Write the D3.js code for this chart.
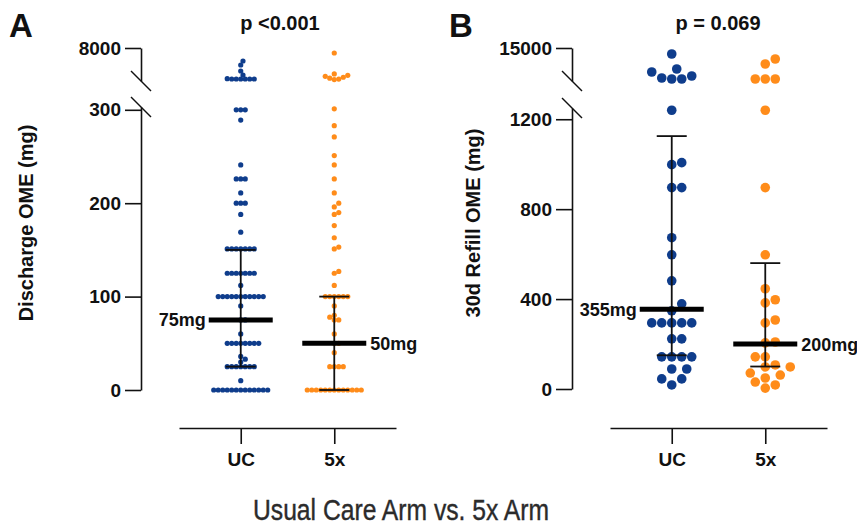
<!DOCTYPE html>
<html>
<head>
<meta charset="utf-8">
<script src="https://cdn.jsdelivr.net/npm/d3@7"></script>
<style>
  body { margin: 0; background: #fff; }
  text { font-family: "Liberation Sans", Arial, sans-serif; }
</style>
</head>
<body>
<div id="chart"></div>
<script>
// groups on the x axis
var groups = ["UC", "5x"];

// panel A: discharge OME (mg), one value per patient
var dischargeUC = [0, 0, 0, 0, 0, 0, 0, 0, 0, 0, 0, 0, 0, 10,
  25, 25, 25, 25, 25, 25, 25, 30, 33, 36,
  50, 50, 50, 50, 50, 50, 50, 50, 60, 75, 75, 90,
  100, 100, 100, 100, 100, 100, 100, 100, 100, 100, 100, 112,
  125, 125, 125, 125, 125, 125, 125,
  151, 151, 151, 151, 151, 151, 151, 169, 188, 200, 200, 200, 211,
  226, 226, 226, 241, 289, 300, 300, 300,
  1424, 1424, 1424, 1424, 1424, 1424, 1500, 2273, 3121, 4394, 5242];
var discharge5x = [0, 0, 0, 0, 0, 0, 0, 0, 0, 0, 0, 0, 0,
  25, 25, 25, 25, 40, 50, 50, 60, 75, 75, 78, 80, 90,
  100, 100, 100, 100, 100, 100, 112, 125, 127, 151, 153, 163, 176,
  188, 190, 196, 200, 211, 226, 241, 251, 271, 283, 301,
  1300, 1400, 1600, 1800, 2000, 2200, 2500, 6940];
var dischargeMedian = [75, 50];
var dischargeLow = [25, 0];
var dischargeHigh = [150, 100];
var dischargeTicks = [0, 100, 200, 300];
var dischargeTopTick = [8000];

// panel B: 30 day refill OME (mg)
var refillUC = [18, 45, 45, 89, 89, 143, 143, 143, 143, 223, 223,
  294, 294, 294, 294, 294, 348, 379, 481, 597, 673, 896, 896, 998, 1007, 1240,
  2790, 2790, 3180, 3970, 5545, 6727, 12636];
var refill5x = [4, 18, 31, 49, 62, 71, 98, 98, 107, 143, 143, 205, 209,
  294, 307, 383, 397, 446, 597, 896, 1240,
  2790, 2790, 2790, 8700, 10667];
var refillMedian = [355, 200];
var refillLow = [150, 100];
var refillHigh = [1125, 560];
var refillTicks = [0, 400, 800, 1200];
var refillTopTick = [15000];

var colors = ["#0f3d8c", "#ff8c1a"];

var width = 857, height = 527;
var svg = d3.select("#chart").append("svg")
  .attr("width", width)
  .attr("height", height);

// simple beeswarm: push each point sideways until it does not overlap
function swarm(vals, yOf, spacing) {
  var placed = [];
  vals.slice().sort(d3.ascending).forEach(function (v) {
    var y = yOf(v);
    for (var k = 0; k < 400; k++) {
      var off = (k % 2 ? 1 : -1) * Math.ceil(k / 2) * spacing / 2;
      var ok = placed.every(function (p) {
        var dx = p.dx - off, dy = p.y - y;
        return dx * dx + dy * dy >= spacing * spacing * 0.999;
      });
      if (ok) { placed.push({ v: v, y: y, dx: off }); break; }
    }
  });
  return placed;
}

function styleAxis(g, size) {
  g.attr("font-family", "Liberation Sans, Arial, sans-serif")
    .attr("font-size", size)
    .attr("font-weight", "bold");
  g.selectAll("path, line").attr("stroke", "#111").attr("stroke-width", 1.6);
  g.selectAll("text").attr("fill", "#111");
}

function panel(o) {
  var g = svg.append("g");

  var x = d3.scalePoint().domain(groups).range(o.xRange).padding(0.66);
  var lower = d3.scaleLinear().domain(o.lowDomain).range([o.y0, o.lowTop]);
  var upper = d3.scaleLinear().domain(o.highDomain).range([81, 48]);
  function yOf(v) { return v > o.lowDomain[1] ? upper(v) : lower(v); }

  // x axis
  var xa = g.append("g")
    .attr("transform", "translate(0,428)")
    .call(d3.axisBottom(x).tickSize(16).tickSizeOuter(0).tickPadding(9));
  styleAxis(xa, 19);

  // y axis, two segments
  var ya = g.append("g")
    .attr("transform", "translate(" + o.axisX + ",0)")
    .call(d3.axisLeft(lower).tickValues(o.ticks).tickFormat(d3.format("d"))
      .tickSize(16).tickSizeOuter(0).tickPadding(4));
  styleAxis(ya, 19);
  var yb = g.append("g")
    .attr("transform", "translate(" + o.axisX + ",0)")
    .call(d3.axisLeft(upper).tickValues(o.topTick).tickFormat(d3.format("d"))
      .tickSize(16).tickSizeOuter(0).tickPadding(4));
  styleAxis(yb, 19);

  // break marks
  [81, o.lowTop].forEach(function (yy) {
    g.append("line")
      .attr("x1", o.axisX - 10).attr("y1", yy - 10)
      .attr("x2", o.axisX + 10).attr("y2", yy + 10)
      .attr("stroke", "#111").attr("stroke-width", 1.4);
  });

  // points
  o.series.forEach(function (vals, i) {
    var pts = swarm(vals, yOf, o.spacing);
    g.selectAll(".pt" + i)
      .data(pts)
      .enter()
      .append("circle")
      .attr("cx", function (d) { return x(groups[i]) + d.dx; })
      .attr("cy", function (d) { return d.y; })
      .attr("r", o.r)
      .attr("fill", colors[i]);
  });

  // error bars and medians
  groups.forEach(function (grp, i) {
    var cx = x(grp);
    g.append("line")
      .attr("x1", cx).attr("x2", cx)
      .attr("y1", lower(o.low[i])).attr("y2", lower(o.high[i]))
      .attr("stroke", "#111").attr("stroke-width", 1.8);
    [o.low[i], o.high[i]].forEach(function (v) {
      g.append("line")
        .attr("x1", cx - 15).attr("x2", cx + 15)
        .attr("y1", lower(v)).attr("y2", lower(v))
        .attr("stroke", "#111").attr("stroke-width", 1.8);
    });
    var my = lower(o.median[i]);
    g.append("line")
      .attr("x1", cx - 32).attr("x2", cx + 32)
      .attr("y1", my).attr("y2", my)
      .attr("stroke", "#000").attr("stroke-width", 5);
    g.append("text")
      .attr("x", i === 0 ? cx - 35 : cx + 36)
      .attr("y", my + 6.5)
      .attr("text-anchor", i === 0 ? "end" : "start")
      .attr("font-size", 18)
      .attr("font-weight", "bold")
      .attr("fill", "#111")
      .text(o.median[i] + "mg");
  });

  // y label
  g.append("text")
    .attr("transform", "translate(" + o.labelX + ",223) rotate(-90)")
    .attr("text-anchor", "middle")
    .attr("dy", "0.35em")
    .attr("font-size", 20)
    .attr("font-weight", "bold")
    .attr("fill", "#111")
    .text(o.label);

  // p value and panel letter
  g.append("text")
    .attr("x", o.pX).attr("y", 30)
    .attr("text-anchor", "middle")
    .attr("font-size", 20)
    .attr("font-weight", "bold")
    .attr("fill", "#111")
    .text(o.p);
  g.append("text")
    .attr("x", o.letterX).attr("y", 37)
    .attr("font-size", 33)
    .attr("font-weight", "bold")
    .attr("fill", "#111")
    .text(o.letter);
}

panel({
  letter: "A", letterX: 9, p: "p <0.001", pX: 280,
  label: "Discharge OME (mg)", labelX: 26,
  xRange: [179, 396], axisX: 141, y0: 390, lowTop: 107,
  lowDomain: [0, 303], highDomain: [1000, 8000],
  ticks: dischargeTicks, topTick: dischargeTopTick,
  series: [dischargeUC, discharge5x],
  median: dischargeMedian, low: dischargeLow, high: dischargeHigh,
  r: 2.6, spacing: 4.5
});

panel({
  letter: "B", letterX: 449, p: "p = 0.069", pX: 718,
  label: "30d Refill OME (mg)", labelX: 473,
  xRange: [610, 827], axisX: 572, y0: 389, lowTop: 108,
  lowDomain: [0, 1250], highDomain: [2000, 15000],
  ticks: refillTicks, topTick: refillTopTick,
  series: [refillUC, refill5x],
  median: refillMedian, low: refillLow, high: refillHigh,
  r: 4.8, spacing: 10
});

// shared x title
svg.append("text")
  .attr("x", 401).attr("y", 520)
  .attr("text-anchor", "middle")
  .attr("font-size", 30)
  .attr("fill", "#2b2b2b")
  .attr("stroke", "#2b2b2b")
  .attr("stroke-width", 0.4)
  .attr("textLength", 296)
  .attr("lengthAdjust", "spacingAndGlyphs")
  .text("Usual Care Arm vs. 5x Arm");
</script>
</body>
</html>
